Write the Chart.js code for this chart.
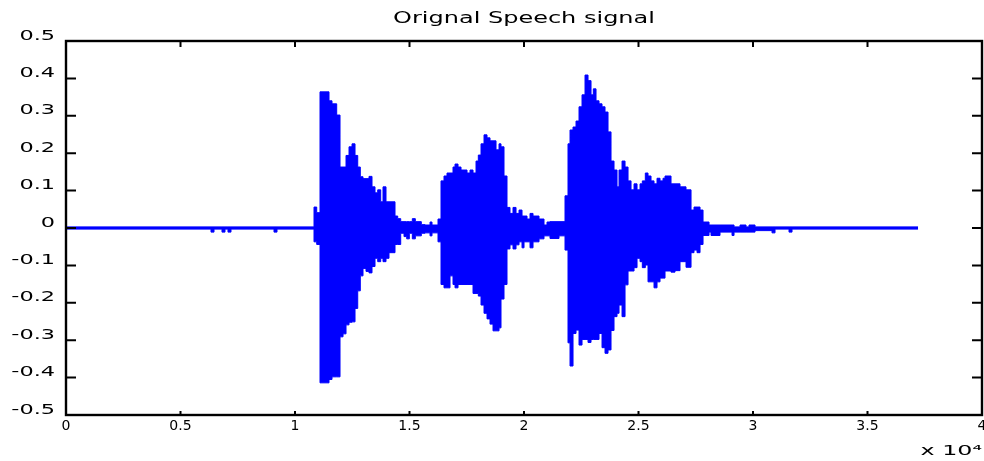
<!DOCTYPE html>
<html lang="en">
<head>
  <meta charset="UTF-8">
  <title>Orignal Speech signal</title>
  <script src="https://cdn.jsdelivr.net/npm/chart.js"></script>
  <style>
    html, body { margin: 0; padding: 0; background: #fff; }
  </style>
</head>
<body>
  <canvas id="speechChart" width="984" height="461"></canvas>

  <script>
    // Envelope of the speech signal: each block starts at a sample
    // number and holds its upper / lower amplitude until the next block starts
    var segStart = [0, 6332, 6463, 6812, 6943, 7074, 7205, 9083, 9214,
      10830, 10948, 11092, 11485, 11616, 11821, 11966, 12097, 12228, 12359, 12490, 12621, 12739, 12852, 12970, 13101,
      13232, 13363, 13494, 13612, 13743, 13843, 13974, 14105, 14367, 14485, 14616, 14760, 14878, 14992, 15123, 15254,
      15516, 15678, 15896, 15983, 16245, 16376, 16507, 16638, 16769, 16900, 16988, 17119, 17250, 17512, 17643, 17774,
      17905, 18005, 18123, 18254, 18385, 18516, 18647, 18778, 18909, 18996, 19127, 19258, 19389, 19520, 19652, 19783,
      19914, 20001, 20132, 20263, 20394, 20656, 20874, 21005, 21136, 21529, 21791, 21922, 22010, 22141, 22272, 22403,
      22534, 22665, 22796, 22927, 23027, 23145, 23276, 23407, 23538, 23669, 23800, 23931, 24062, 24150, 24281, 24412,
      24543, 24674, 24805, 24936, 25067, 25167, 25298, 25416, 25547, 25678, 25809, 25940, 26071, 26158, 26420, 26595,
      26813, 27075, 27294, 27424, 27556, 27687, 27818, 28080, 28167, 28560, 29084, 29172, 29434, 29696, 29826, 30089,
      30831, 30962, 31573, 31704];

    var upper = [0.003, 0.003, 0.003, 0.003, 0.003, 0.003, 0.003, 0.003, 0.003,
      0.056, 0.041, 0.364, 0.340, 0.332, 0.302, 0.163, 0.163, 0.194, 0.217, 0.225, 0.194, 0.163, 0.137, 0.132, 0.132,
      0.138, 0.110, 0.094, 0.102, 0.070, 0.110, 0.070, 0.070, 0.032, 0.025, 0.017, 0.017, 0.017, 0.017, 0.025, 0.017,
      0.009, 0.008, 0.016, 0.008, 0.024, 0.126, 0.139, 0.147, 0.147, 0.163, 0.171, 0.163, 0.155, 0.147, 0.155, 0.147,
      0.179, 0.195, 0.225, 0.249, 0.241, 0.233, 0.233, 0.209, 0.225, 0.217, 0.139, 0.055, 0.039, 0.055, 0.039, 0.048,
      0.032, 0.032, 0.024, 0.039, 0.032, 0.024, 0.008, 0.016, 0.017, 0.017, 0.086, 0.225, 0.262, 0.270, 0.286, 0.324,
      0.356, 0.409, 0.394, 0.356, 0.372, 0.340, 0.332, 0.324, 0.310, 0.257, 0.179, 0.155, 0.110, 0.155, 0.179, 0.163,
      0.126, 0.102, 0.118, 0.102, 0.118, 0.126, 0.147, 0.139, 0.126, 0.118, 0.133, 0.126, 0.133, 0.139, 0.118, 0.118,
      0.110, 0.102, 0.048, 0.056, 0.056, 0.048, 0.016, 0.008, 0.008, 0.008, 0.008, 0.003, 0.008, 0.003, 0.008, 0.003,
      0.003, 0.003, 0.003, 0.003];

    var lower = [-0.003, -0.011, -0.003, -0.011, -0.003, -0.011, -0.003, -0.011, -0.003,
      -0.037, -0.044, -0.414, -0.405, -0.398, -0.398, -0.291, -0.283, -0.259, -0.252, -0.251, -0.215, -0.168, -0.128, -0.108, -0.116,
      -0.120, -0.103, -0.081, -0.090, -0.081, -0.090, -0.081, -0.066, -0.044, -0.044, -0.014, -0.023, -0.029, -0.014, -0.029, -0.021,
      -0.014, -0.013, -0.021, -0.013, -0.037, -0.151, -0.160, -0.160, -0.128, -0.151, -0.160, -0.151, -0.151, -0.151, -0.151, -0.175,
      -0.175, -0.182, -0.206, -0.228, -0.243, -0.257, -0.275, -0.275, -0.267, -0.190, -0.151, -0.056, -0.045, -0.056, -0.045, -0.037,
      -0.053, -0.037, -0.037, -0.053, -0.037, -0.029, -0.021, -0.021, -0.028, -0.021, -0.059, -0.307, -0.369, -0.282, -0.273, -0.313,
      -0.298, -0.298, -0.306, -0.298, -0.298, -0.298, -0.282, -0.320, -0.335, -0.326, -0.274, -0.237, -0.228, -0.206, -0.237, -0.152,
      -0.115, -0.115, -0.106, -0.081, -0.090, -0.106, -0.099, -0.144, -0.144, -0.160, -0.144, -0.134, -0.134, -0.115, -0.118, -0.114,
      -0.090, -0.105, -0.066, -0.059, -0.066, -0.044, -0.020, -0.011, -0.020, -0.011, -0.020, -0.011, -0.011, -0.011, -0.011, -0.007,
      -0.013, -0.003, -0.011, -0.003];

    var signalEnd = 37207;

    var xTicks = [0, 5000, 10000, 15000, 20000, 25000, 30000, 35000, 40000];
    var xTickLabels = ['0', '0.5', '1', '1.5', '2', '2.5', '3', '3.5', '4'];
    var yTicks = [-0.5, -0.4, -0.3, -0.2, -0.1, 0, 0.1, 0.2, 0.3, 0.4, 0.5];
    var yTickLabels = ['-0.5', '-0.4', '-0.3', '-0.2', '-0.1', '0', '0.1', '0.2', '0.3', '0.4', '0.5'];

    // one point per block start plus a closing point; stepped lines hold each value
    // until the next start
    function blockPoints(values) {
      var pts = segStart.map(function(s, i) { return { x: s, y: values[i] }; });
      pts.push({ x: signalEnd, y: values[values.length - 1] });
      return pts;
    }

    // the old matlab figure has its text stretched sideways, so widen it
    // around an anchor x (right edge of the y labels, centre of the title...)
    function stretch(el, method, factor, anchor) {
      if (!el || el['_wide_' + method]) return;
      var orig = el[method];
      el[method] = function() {
        var ctx = this.ctx;
        var ax = anchor(this);
        ctx.save();
        ctx.translate(ax, 0);
        ctx.scale(factor, 1);
        ctx.translate(-ax, 0);
        orig.apply(this, arguments);
        ctx.restore();
      };
      el['_wide_' + method] = true;
    }

    var wideText = {
      id: 'wideText',
      beforeDraw: function(chart) {
        var ys = chart.scales.y;
        stretch(ys, 'drawLabels', 1.6, function(s) { return s.right - s.options.ticks.padding; });
        stretch(chart.scales.x, 'drawTitle', 1.7, function(s) { return s.right; });
        stretch(chart.titleBlock, 'draw', 1.6, function(t) { return (t.left + t.right) / 2; });
      }
    };

    // box round the axes with inward tick marks on all four sides
    var axesBox = {
      id: 'axesBox',
      afterDraw: function(chart) {
        var ctx = chart.ctx, a = chart.chartArea;
        var xs = chart.scales.x, ys = chart.scales.y;
        ctx.save();
        ctx.strokeStyle = '#000';
        ctx.lineWidth = 2.4;
        ctx.strokeRect(a.left, a.top, a.right - a.left, a.bottom - a.top);
        ctx.lineWidth = 2;
        ctx.beginPath();
        xs.ticks.forEach(function(t) {
          var px = xs.getPixelForValue(t.value);
          ctx.moveTo(px, a.bottom); ctx.lineTo(px, a.bottom - 4);
          ctx.moveTo(px, a.top); ctx.lineTo(px, a.top + 6);
        });
        ys.ticks.forEach(function(t) {
          var py = ys.getPixelForValue(t.value);
          ctx.moveTo(a.left, py); ctx.lineTo(a.left + 10, py);
          ctx.moveTo(a.right, py); ctx.lineTo(a.right - 10, py);
        });
        ctx.stroke();
        ctx.restore();
      }
    };

    var blue = '#0000ff';
    var labelFont = { family: 'DejaVu Sans', size: 14 };

    new Chart(document.getElementById('speechChart').getContext('2d'), {
      type: 'line',
      data: {
        datasets: [
          {
            label: 'upper',
            data: blockPoints(upper),
            borderColor: blue,
            backgroundColor: blue,
            borderWidth: 1,
            pointRadius: 0,
            stepped: true,
            fill: '+1'
          },
          {
            label: 'lower',
            data: blockPoints(lower),
            borderColor: blue,
            backgroundColor: blue,
            borderWidth: 1,
            pointRadius: 0,
            stepped: true,
            fill: false
          }
        ]
      },
      options: {
        responsive: false,
        animation: false,
        events: [],
        layout: { padding: { left: 0, right: 2, top: 0, bottom: 0 } },
        scales: {
          x: {
            type: 'linear',
            min: 0,
            max: 40000,
            afterBuildTicks: function(scale) {
              scale.ticks = xTicks.map(function(v) { return { value: v }; });
            },
            afterFit: function(scale) {
              scale.height = 46;
              scale.paddingLeft = 0;
              scale.paddingRight = 0;
            },
            grid: { display: false, drawTicks: false },
            border: { display: false },
            ticks: {
              autoSkip: false,
              maxRotation: 0,
              padding: 3,
              color: '#000',
              font: labelFont,
              callback: function(v, i) { return xTickLabels[i]; }
            },
            title: {
              display: true,
              text: 'x 10⁴',
              align: 'end',
              color: '#000',
              font: { family: 'DejaVu Sans', size: 14 },
              padding: { top: 0, bottom: 1 }
            }
          },
          y: {
            type: 'linear',
            min: -0.5,
            max: 0.5,
            afterBuildTicks: function(scale) {
              scale.ticks = yTicks.map(function(v) { return { value: v }; });
            },
            afterFit: function(scale) {
              scale.width = 66;
              scale.paddingTop = 0;
              scale.paddingBottom = 0;
            },
            grid: { display: false, drawTicks: false },
            border: { display: false },
            ticks: {
              padding: 11,
              labelOffset: -5,
              color: '#000',
              font: labelFont,
              callback: function(v, i) { return yTickLabels[i]; }
            }
          }
        },
        plugins: {
          legend: { display: false },
          tooltip: { enabled: false },
          title: {
            display: true,
            fullSize: false,
            text: 'Orignal Speech signal',
            color: '#000',
            font: { family: 'DejaVu Sans', size: 15, weight: 'normal' },
            padding: { top: 10, bottom: 13 }
          }
        }
      },
      plugins: [wideText, axesBox]
    });
  </script>
</body>
</html>
